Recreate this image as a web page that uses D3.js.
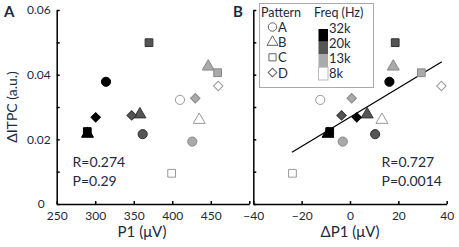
<!DOCTYPE html>
<html>
<head>
<meta charset="utf-8">
<script src="https://cdn.jsdelivr.net/npm/d3@7"></script>
<style>
  body { margin: 0; background: #fff; }
  svg text { font-family: Lato, "Open Sans", sans-serif; fill: #1c2940; }
</style>
</head>
<body>
<div id="chart"></div>
<script>
// pattern / frequency categories
const patterns = ["A", "B", "C", "D"];
const freqs = ["32k", "20k", "13k", "8k"];

// values per pattern, ordered by freqs (32k, 20k, 13k, 8k)
const p1Values = {
    A: [314, 361.6, 426, 410],
    B: [290, 358, 446.7, 435],
    C: [289.7, 369.8, 458.9, 399.2],
    D: [300.6, 347.3, 429.9, 459.7]
};
const dp1Values = {
    A: [16.3, 10.4, -3.0, -12.3],
    B: [-9.1, 7.1, 17.9, 13.2],
    C: [-8.4, 18.7, 29.5, -23.8],
    D: [2.8, -3.5, 0.7, 37.8]
};
const itpcValues = {
    A: [0.0378, 0.0216, 0.0193, 0.0322],
    B: [0.0217, 0.0277, 0.0425, 0.026],
    C: [0.0224, 0.0499, 0.0406, 0.0095],
    D: [0.0268, 0.0274, 0.0327, 0.0365]
};

// fit line in panel B
const fitX = [-24, 38];
const fitY = [0.016, 0.044];

const yTicks = [0, 0.01, 0.02, 0.03, 0.04, 0.05, 0.06];
const xTicksA = [250, 300, 350, 400, 450, 500];
const xTicksB = [-40, -20, 0, 20, 40];

const statsA = ["R=0.274", "P=0.29"];
const statsB = ["R=0.727", "P=0.0014"];

let points = [];
patterns.forEach(p => {
    freqs.forEach((f, i) => {
        points.push({ pattern: p, freq: f, p1: p1Values[p][i], dp1: dp1Values[p][i], itpc: itpcValues[p][i] });
    });
});

const fillCol = { "32k": "#000", "20k": "#555", "13k": "#aaa", "8k": "#fff" };
const strokeCol = { "32k": "#000", "20k": "#333", "13k": "#888", "8k": "#999" };
const shape = { A: d3.symbolCircle, B: d3.symbolTriangle, C: d3.symbolSquare, D: d3.symbolSquare };
const shapeSize = { A: 66, B: 62, C: 60, D: 44 };

const svg = d3.select("#chart").append("svg")
    .attr("width", 459)
    .attr("height", 247);

const y = d3.scaleLinear().domain([0, 0.06]).range([204, 10]);
const xA = d3.scaleLinear().domain([250, 500]).range([56.7, 249.3]);
const xB = d3.scaleLinear().domain([-40, 40]).range([253.3, 446.7]);

function marker(sel) {
    sel.attr("d", d => d3.symbol().type(shape[d.pattern]).size(shapeSize[d.pattern])())
        .attr("fill", d => fillCol[d.freq])
        .attr("stroke", d => strokeCol[d.freq])
        .attr("stroke-width", 1);
}

function styleAxis(g) {
    g.selectAll("path, line").attr("stroke", "#000").attr("stroke-width", 1.5);
    g.selectAll("text").style("font-size", "12px").attr("fill", "#1c2940");
}

// ---- panel A
let gAx = svg.append("g")
    .attr("transform", "translate(0,204)")
    .call(d3.axisBottom(xA).tickValues(xTicksA).tickSizeInner(-3).tickSizeOuter(0).tickPadding(7)
        .tickFormat(d => d === 500 ? "" : d));
styleAxis(gAx);

let gAy = svg.append("g")
    .attr("transform", "translate(56.7,0)")
    .call(d3.axisLeft(y).tickValues(yTicks).tickSizeInner(-3).tickSizeOuter(0).tickPadding(6)
        .tickFormat(d => Math.round(d * 100) % 2 !== 0 ? "" : (d === 0 ? "0" : d.toFixed(2))));
styleAxis(gAy);
// the zero label sits a little further left, clear of the x labels
gAy.selectAll(".tick").filter(d => d === 0).select("text").attr("x", -12);

svg.append("g").selectAll("path")
    .data(points)
    .join("path")
    .attr("transform", d => `translate(${xA(d.p1)},${y(d.itpc)}) rotate(${d.pattern === "D" ? 45 : 0})`)
    .call(marker);

svg.selectAll(".statA")
    .data(statsA)
    .join("text")
    .attr("x", 72.5)
    .attr("y", (d, i) => 167 + i * 18.5)
    .style("font-size", "14px")
    .text(d => d);

svg.append("text")
    .attr("x", 142).attr("y", 237)
    .attr("text-anchor", "middle")
    .style("font-size", "15px")
    .text("P1 (\u03bcV)");

svg.append("text")
    .attr("transform", "translate(17,107) rotate(-90)")
    .attr("text-anchor", "middle")
    .style("font-size", "14px")
    .text("\u0394ITPC (a.u.)");

svg.append("text")
    .attr("x", 4).attr("y", 17)
    .style("font-size", "15px").style("font-weight", "bold").attr("fill", "#111")
    .text("A");

// ---- panel B
let gBx = svg.append("g")
    .attr("transform", "translate(0,204)")
    .call(d3.axisBottom(xB).tickValues(xTicksB).tickSizeInner(-3).tickSizeOuter(0).tickPadding(7));
styleAxis(gBx);

let gBy = svg.append("g")
    .attr("transform", "translate(253.3,0)")
    .call(d3.axisLeft(y).tickValues(yTicks).tickSizeInner(-3).tickSizeOuter(0).tickFormat(""));
styleAxis(gBy);

svg.append("line")
    .attr("x1", xB(fitX[0])).attr("y1", y(fitY[0]))
    .attr("x2", xB(fitX[1])).attr("y2", y(fitY[1]))
    .attr("stroke", "#000").attr("stroke-width", 1.3);

svg.append("g").selectAll("path")
    .data(points)
    .join("path")
    .attr("transform", d => `translate(${xB(d.dp1)},${y(d.itpc)}) rotate(${d.pattern === "D" ? 45 : 0})`)
    .call(marker);

svg.selectAll(".statB")
    .data(statsB)
    .join("text")
    .attr("x", 381.5)
    .attr("y", (d, i) => 167 + i * 18.5)
    .style("font-size", "14px")
    .text(d => d);

svg.append("text")
    .attr("x", 350).attr("y", 237)
    .attr("text-anchor", "middle")
    .style("font-size", "15px")
    .text("\u0394P1 (\u03bcV)");

svg.append("text")
    .attr("x", 233).attr("y", 17)
    .style("font-size", "15px").style("font-weight", "bold").attr("fill", "#111")
    .text("B");

// ---- legend
let leg = svg.append("g");
leg.append("rect")
    .attr("x", 259.5).attr("y", 3.5).attr("width", 114).attr("height", 84)
    .attr("fill", "#fff").attr("stroke", "#aaa").attr("stroke-width", 1);

leg.append("text").attr("x", 261).attr("y", 17).style("font-size", "12.5px").text("Pattern");
leg.append("text").attr("x", 314).attr("y", 17).style("font-size", "12.5px").text("Freq (Hz)");

let rowY = d3.scalePoint().domain(patterns).range([27, 72.5]);

leg.selectAll(".pat")
    .data(patterns)
    .join("path")
    .attr("transform", d => `translate(272.5,${rowY(d)}) rotate(${d === "D" ? 45 : 0})`)
    .attr("d", d => d3.symbol().type(shape[d]).size(shapeSize[d] * 0.85)())
    .attr("fill", "#fff").attr("stroke", "#666").attr("stroke-width", 1);

leg.selectAll(".patLabel")
    .data(patterns)
    .join("text")
    .attr("x", 278).attr("y", d => rowY(d) + 5)
    .style("font-size", "13px")
    .text(d => d);

let barY = d3.scaleBand().domain(freqs).range([29, 80]);

leg.selectAll(".bar")
    .data(freqs)
    .join("rect")
    .attr("x", 318.5).attr("y", d => barY(d))
    .attr("width", 9.5).attr("height", barY.bandwidth())
    .attr("fill", d => fillCol[d])
    .attr("stroke", d => d === "8k" ? "#bbb" : "none");

leg.selectAll(".freqLabel")
    .data(freqs)
    .join("text")
    .attr("x", 329).attr("y", (d, i) => rowY(patterns[i]) + 5.5)
    .style("font-size", "13px")
    .text(d => d);
</script>
</body>
</html>
